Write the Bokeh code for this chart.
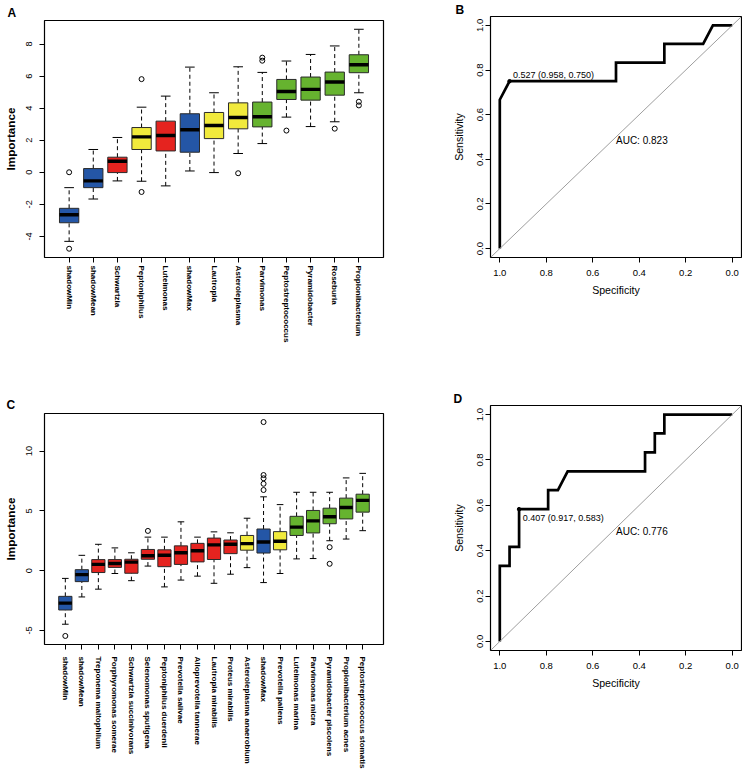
import numpy as np
from bokeh.plotting import figure
from bokeh.models import Range1d, FixedTicker, PrintfTickFormatter, ColumnDataSource, Label, Slope, Title
from bokeh.layouts import column, row
from bokeh.embed import file_html
from bokeh.resources import INLINE

FONT = "Liberation Sans"

# ---------------- Panel A (Boruta importance) ----------------
names_a = ["shadowMin", "shadowMean", "Schwartzia", "Peptoniphilus", "Luteimonas", "shadowMax",
           "Lautropia", "Asteroleplasma", "Parvimonas", "Peptostreptococcus", "Pyramidobacter",
           "Roseburia", "Propionibacterium"]
status_a = ["shadow", "shadow", "rejected", "tentative", "rejected", "shadow", "tentative",
            "tentative", "confirmed", "confirmed", "confirmed", "confirmed", "confirmed"]
lo_a = [-4.31, -1.67, -0.54, -0.56, -0.85, 0.08, -0.02, 1.17, 1.79, 3.44, 2.85, 3.15, 4.96]
q1_a = [-3.15, -0.96, -0.02, 1.42, 1.33, 1.25, 2.10, 2.71, 2.83, 4.54, 4.50, 4.81, 6.21]
med_a = [-2.65, -0.54, 0.69, 2.21, 2.29, 2.65, 2.92, 3.42, 3.46, 5.04, 5.17, 5.63, 6.71]
q3_a = [-2.25, 0.23, 0.94, 2.79, 3.19, 3.65, 3.73, 4.33, 4.38, 5.79, 5.94, 6.25, 7.33]
hi_a = [-0.96, 1.42, 2.17, 4.06, 4.75, 6.56, 4.96, 6.58, 6.23, 6.94, 7.35, 7.88, 8.92]
out_box_a = [1, 1, 4, 4, 8, 9, 9, 10, 12, 13, 13]
out_val_a = [0.0, -4.77, 5.81, -1.23, -0.06, 7.15, 6.96, 2.60, 2.72, 4.40, 4.17]
yticks_a = [-4, -2, 0, 2, 4, 6, 8]

# ---------------- Panel C (Boruta importance, species) ----------------
names_c = ["shadowMin", "shadowMean", "Treponema maltophilum", "Porphyromonas somerae",
           "Schwartzia succinivorans", "Selenomonas sputigena", "Peptoniphilus duerdenii",
           "Prevotella salivae", "Alloprevotella tannerae", "Lautropia mirabilis", "Proteus mirabilis",
           "Asteroleplasma anaerobium", "shadowMax", "Prevotella pallens", "Luteimonas marina",
           "Parvimonas micra", "Pyramidobacter piscolens", "Propionibacterium acnes",
           "Peptostreptococcus stomatis"]
status_c = ["shadow", "shadow"] + ["rejected"] * 9 + ["tentative", "shadow", "tentative"] + ["confirmed"] * 5
lo_c = [-4.48, -2.20, -1.55, -0.24, -0.84, 0.38, -1.36, -0.79, -0.46, -1.06, -0.30, 0.25, -1.00,
        -0.24, 0.98, 1.01, 2.50, 2.64, 3.34]
q1_c = [-3.29, -0.92, -0.16, 0.27, -0.22, 0.95, 0.33, 0.52, 0.73, 0.93, 1.42, 1.71, 1.47, 1.74,
        2.94, 3.15, 3.92, 4.32, 4.89]
med_c = [-2.72, -0.33, 0.52, 0.60, 0.71, 1.25, 1.28, 1.49, 1.66, 2.15, 2.20, 2.26, 2.39, 2.45,
         3.64, 4.16, 4.51, 5.28, 5.87]
q3_c = [-2.15, 0.08, 0.92, 0.92, 0.95, 1.77, 1.74, 2.07, 2.28, 2.72, 2.56, 2.94, 3.48, 3.26,
        4.54, 5.03, 5.22, 6.06, 6.39]
hi_c = [-0.65, 1.28, 2.20, 1.90, 1.49, 2.80, 2.80, 4.08, 2.80, 3.24, 3.16, 4.38, 6.17, 5.52,
        6.55, 6.55, 6.55, 7.75, 8.13]
out_box_c = [1, 6, 13, 13, 13, 13, 13, 17, 17]
out_val_c = [-5.46, 3.32, 12.42, 7.99, 7.72, 7.26, 6.74, 1.96, 0.57]
yticks_c = [-5, 0, 5, 10]

# ---------------- Panels B and D (ROC curves) ----------------
spec_b = [1.0, 1.0, 0.958, 0.5, 0.5, 0.292, 0.292, 0.125, 0.083, 0.0]
sens_b = [0.0, 0.667, 0.75, 0.75, 0.833, 0.833, 0.917, 0.917, 1.0, 1.0]
thr_b = (0.958, 0.750, "0.527 (0.958, 0.750)")
auc_b = "AUC: 0.823"

spec_d = [1.0, 1.0, 0.958, 0.958, 0.917, 0.917, 0.792, 0.792, 0.75, 0.708, 0.375, 0.375,
          0.333, 0.333, 0.292, 0.292, 0.0]
sens_d = [0.0, 0.333, 0.333, 0.417, 0.417, 0.583, 0.583, 0.667, 0.667, 0.75, 0.75, 0.833,
          0.833, 0.917, 0.917, 1.0, 1.0]
thr_d = (0.917, 0.583, "0.407 (0.917, 0.583)")
auc_d = "AUC: 0.776"
ticks_roc = [0.0, 0.2, 0.4, 0.6, 0.8, 1.0]

status_colors = {"shadow": "#2456A6", "rejected": "#E5231F", "tentative": "#F1EA3C", "confirmed": "#66B32F"}


def style_axes(p, tick_size):
    p.xgrid.visible = False
    p.ygrid.visible = False
    p.outline_line_color = "black"
    p.outline_line_width = 1.2
    p.axis.axis_line_color = None
    p.axis.major_tick_out = 5
    p.axis.major_tick_in = 0
    p.axis.minor_tick_out = 0
    p.axis.minor_tick_in = 0
    p.axis.major_tick_line_color = "black"
    p.axis.major_label_text_font = FONT
    p.axis.major_label_text_font_size = tick_size
    p.axis.major_label_text_color = "black"
    p.axis.axis_label_text_font = FONT
    p.axis.axis_label_text_color = "black"


def panel_letter(p, letter, offset, standoff):
    p.add_layout(Title(text=letter, align="left", offset=offset, standoff=standoff, text_font=FONT,
                       text_font_style="bold", text_font_size="12px", text_color="black"), "above")


def box_panel(names, status, lo, q1, med, q3, hi, out_box, out_val, yticks,
              w, h, ml, mr, mt, mb, cat_standoff, letter, letter_off, letter_so):
    n = len(names)
    xs = np.arange(1, n + 1)
    allv = lo + hi + out_val
    ymin, ymax = min(allv), max(allv)
    ypad = 0.04 * (ymax - ymin)
    xpad = 0.04 * n
    p = figure(width=w, height=h, output_backend="svg", toolbar_location=None,
               x_range=Range1d(0.5 - xpad, n + 0.5 + xpad),
               y_range=Range1d(ymin - ypad, ymax + ypad),
               min_border_left=ml, min_border_right=mr, min_border_top=mt, min_border_bottom=mb)
    style_axes(p, "9.2px")
    src = ColumnDataSource(dict(
        x=xs, lo=lo, q1=q1, med=med, q3=q3, hi=hi,
        cl=xs - 0.2, cr=xs + 0.2, bl=xs - 0.4, br=xs + 0.4,
        color=[status_colors[s] for s in status]))
    p.segment("x", "q3", "x", "hi", source=src, line_color="black", line_width=1, line_dash="4 3")
    p.segment("x", "lo", "x", "q1", source=src, line_color="black", line_width=1, line_dash="4 3")
    p.segment("cl", "hi", "cr", "hi", source=src, line_color="black", line_width=1)
    p.segment("cl", "lo", "cr", "lo", source=src, line_color="black", line_width=1)
    p.vbar(x="x", width=0.8, bottom="q1", top="q3", source=src, fill_color="color",
           line_color="#2a2a2a", line_width=1)
    p.segment("bl", "med", "br", "med", source=src, line_color="black", line_width=3.4, line_cap="butt")
    p.scatter(x=out_box, y=out_val, marker="circle", size=5, fill_color=None,
              line_color="black", line_width=1)
    p.xaxis.ticker = FixedTicker(ticks=[int(v) for v in xs])
    p.xaxis.major_label_overrides = {int(v): nm for v, nm in zip(xs, names)}
    p.xaxis.major_label_orientation = "vertical"
    p.xaxis.major_label_text_font_size = "8px"
    p.xaxis.major_label_text_font_style = "bold"
    p.xaxis.major_label_standoff = cat_standoff
    p.yaxis.ticker = FixedTicker(ticks=yticks)
    p.yaxis.formatter = PrintfTickFormatter(format="%d")
    p.yaxis.major_label_orientation = "vertical"
    p.yaxis.major_label_standoff = 7
    p.yaxis.axis_label = "Importance"
    p.yaxis.axis_label_text_font_style = "bold"
    p.yaxis.axis_label_text_font_size = "11.7px"
    p.yaxis.axis_label_standoff = 7
    panel_letter(p, letter, letter_off, letter_so)
    return p


def roc_panel(spec, sens, thr, auc, w, h, ml, mr, mt, mb, thr_off, letter, letter_off, letter_so):
    pad = 0.04
    p = figure(width=w, height=h, output_backend="svg", toolbar_location=None,
               x_range=Range1d(1 + pad, 0 - pad), y_range=Range1d(0 - pad, 1 + pad),
               min_border_left=ml, min_border_right=mr, min_border_top=mt, min_border_bottom=mb)
    style_axes(p, "9.5px")
    p.add_layout(Slope(gradient=-1, y_intercept=1, line_color="#9e9e9e", line_width=1))
    p.line(spec, sens, line_color="black", line_width=2.7, line_join="miter")
    p.scatter(x=[thr[0]], y=[thr[1]], marker="circle", size=3.5, color="black")
    p.add_layout(Label(x=thr[0], y=thr[1], text=thr[2], x_offset=thr_off[0], y_offset=thr_off[1],
                       text_font=FONT, text_font_size="9px", text_align="left",
                       text_baseline="middle", text_color="black"))
    p.add_layout(Label(x=0.5, y=0.486, text=auc, text_font=FONT, text_font_size="10px",
                       text_align="left", text_baseline="middle", text_color="black"))
    p.xaxis.ticker = FixedTicker(ticks=ticks_roc)
    p.yaxis.ticker = FixedTicker(ticks=ticks_roc)
    p.xaxis.formatter = PrintfTickFormatter(format="%.1f")
    p.yaxis.formatter = PrintfTickFormatter(format="%.1f")
    p.yaxis.major_label_orientation = "vertical"
    p.yaxis.major_label_standoff = 2
    p.xaxis.major_label_standoff = 7
    p.xaxis.axis_label = "Specificity"
    p.yaxis.axis_label = "Sensitivity"
    p.axis.axis_label_text_font_style = "normal"
    p.axis.axis_label_text_font_size = "10.6px"
    p.yaxis.axis_label_standoff = 10
    p.xaxis.axis_label_standoff = 5
    panel_letter(p, letter, letter_off, letter_so)
    return p


pA = box_panel(names_a, status_a, lo_a, q1_a, med_a, q3_a, hi_a, out_box_a, out_val_a, yticks_a,
               440, 385, 39, 57, 20, 128, 3, "A", -37, 2)
pB = roc_panel(spec_b, sens_b, thr_b, auc_b, 302, 385, 50, 1, 13, 128, (3.4, 6), "B", -35, 0)
pC = box_panel(names_c, status_c, lo_c, q1_c, med_c, q3_c, hi_c, out_box_c, out_val_c, yticks_c,
               440, 386, 40, 56, 28, 121, 7, "C", -38, 4)
pD = roc_panel(spec_d, sens_d, thr_d, auc_d, 302, 386, 50, 1, 20, 121, (3.7, -8.7), "D", -37, 0)

layout = row(column(pA, pC), column(pB, pD))
open("out.html", "w").write(file_html(layout, INLINE))
